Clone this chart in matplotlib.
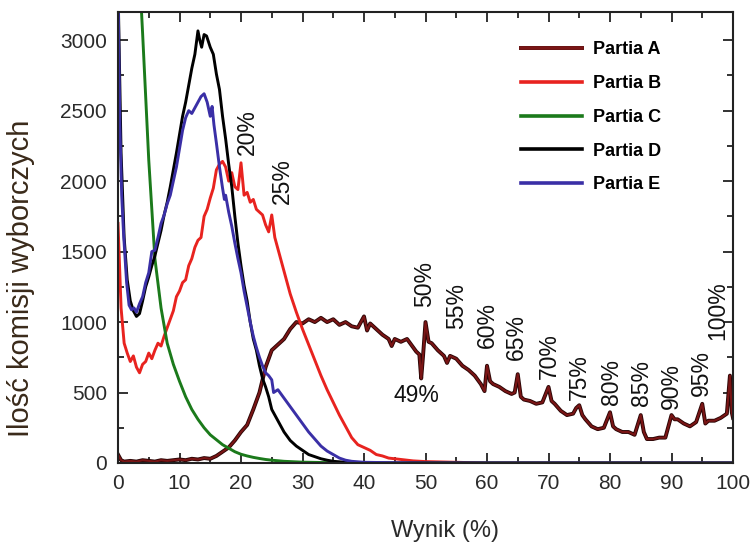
import matplotlib
matplotlib.use("Agg")
import matplotlib.pyplot as plt
import matplotlib.patheffects as pe
from matplotlib.ticker import MultipleLocator

plt.rcParams['font.family'] = ['Liberation Sans', 'DejaVu Sans']

# ---- data ----
xa = [0, 0.5, 1, 2, 3, 4, 5, 6, 7, 8, 9, 10, 11, 12, 13, 14, 15, 16, 17, 18, 19, 20,
      21, 22, 23, 24, 25, 26, 27, 28, 29, 30, 31, 32, 33, 34, 35, 36, 37, 38, 39, 40,
      40.5, 41, 42, 43, 44, 44.5, 45, 46, 47, 48, 48.5, 49, 49.3, 49.6, 50, 50.5, 51,
      52, 53, 53.5, 54, 55, 56, 57, 58, 59, 59.6, 60, 60.5, 61, 62, 63, 64, 64.5, 65,
      65.5, 66, 67, 68, 69, 70, 70.5, 71, 72, 73, 74, 74.5, 75, 75.5, 76, 77, 78, 79,
      80, 80.5, 81, 82, 83, 84, 85, 85.5, 86, 87, 88, 89, 90, 90.5, 91, 92, 93, 94, 95,
      95.5, 96, 97, 98, 99, 99.5, 99.8, 100]
ya = [60, 20, 10, 15, 10, 20, 15, 10, 20, 15, 20, 25, 20, 30, 25, 35, 30, 50, 80, 110,
      160, 220, 270, 380, 500, 680, 800, 840, 880, 950, 1000, 990, 1020, 1000, 1030,
      1000, 1020, 980, 1000, 970, 960, 1040, 940, 990, 950, 910, 880, 830, 880, 860,
      880, 820, 790, 770, 600, 760, 1000, 860, 850, 800, 760, 710, 760, 740, 690, 660,
      620, 560, 510, 690, 580, 560, 540, 510, 490, 500, 630, 470, 450, 440, 420, 430,
      540, 440, 420, 370, 340, 350, 390, 410, 340, 310, 260, 240, 250, 360, 260, 240,
      220, 220, 200, 340, 220, 170, 170, 180, 180, 340, 310, 310, 280, 260, 290, 420,
      280, 300, 300, 320, 350, 620, 360, 320]

xb = [0, 0.5, 1, 1.5, 2, 2.5, 3, 3.5, 4, 4.5, 5, 5.5, 6, 6.5, 7, 7.5, 8, 8.5, 9, 9.5,
      10, 10.5, 11, 11.5, 12, 12.5, 13, 13.5, 14, 14.5, 15, 15.5, 16, 16.5, 17, 17.5,
      18, 18.5, 19, 19.5, 20, 20.5, 21, 21.5, 22, 22.5, 23, 23.5, 24, 24.5, 25, 25.5,
      26, 27, 28, 29, 30, 31, 32, 33, 34, 35, 36, 37, 38, 39, 40, 41, 42, 43, 44, 45,
      46, 47, 48, 50, 55, 60, 100]
yb = [1700, 1100, 850, 780, 720, 760, 680, 640, 700, 720, 780, 740, 800, 850, 830,
      900, 960, 1020, 1080, 1180, 1220, 1280, 1300, 1400, 1450, 1530, 1580, 1600,
      1750, 1800, 1880, 1950, 2080, 2120, 2140, 2100, 2000, 2060, 1960, 1940, 2130,
      1900, 1920, 1850, 1870, 1800, 1780, 1760, 1690, 1640, 1760, 1600, 1520, 1360,
      1200, 1070, 950, 840, 730, 620, 520, 430, 340, 260, 180, 130, 110, 90, 60, 50,
      35, 30, 25, 20, 15, 10, 5, 0, 0]

xc = [0, 1, 2, 3, 4, 5, 6, 7, 8, 9, 10, 11, 12, 13, 14, 15, 16, 17, 18, 19, 20, 21, 22,
      23, 24, 25, 27, 30, 35, 40, 100]
yc = [8000, 6200, 4900, 3900, 3050, 2150, 1450, 1100, 850, 700, 580, 470, 380, 310, 250,
      200, 165, 130, 105, 80, 62, 50, 40, 32, 25, 20, 12, 6, 2, 0, 0]

xd = [0, 0.5, 1, 1.5, 2, 2.5, 3, 3.5, 4, 4.5, 5, 5.5, 6, 6.5, 7, 7.5, 8, 8.5, 9, 9.5,
      10, 10.5, 11, 11.5, 12, 12.5, 13, 13.3, 13.6, 14, 14.4, 15, 15.5, 16, 16.5, 17,
      17.5, 18, 18.5, 19, 19.5, 20, 20.5, 21, 21.5, 22, 22.5, 23, 23.5, 24, 24.5, 25,
      25.5, 26, 27, 28, 29, 30, 31, 32, 33, 34, 35, 37, 40, 100]
yd = [3400, 2200, 1600, 1300, 1150, 1080, 1040, 1060, 1150, 1250, 1320, 1400, 1470,
      1560, 1650, 1760, 1850, 1960, 2080, 2200, 2330, 2460, 2560, 2680, 2800, 2900,
      3066, 3000, 2950, 3040, 3030, 2950, 2900, 2760, 2650, 2460, 2300, 2120, 1960,
      1750, 1560, 1400, 1260, 1150, 1000, 880, 800, 690, 600, 540, 470, 380, 340, 300,
      220, 160, 120, 90, 60, 45, 30, 20, 12, 5, 0, 0]

xe = [0, 0.3, 0.6, 0.9, 1.4, 1.8, 2.2, 2.6, 3, 3.5, 4, 4.5, 5, 5.5, 6, 6.5, 7, 7.5, 8,
      8.5, 9, 9.5, 10, 10.5, 11, 11.5, 12, 12.5, 13, 13.5, 14, 14.5, 15, 15.3, 15.6, 16,
      16.5, 17, 17.3, 17.5, 18, 18.5, 19, 19.5, 20, 20.5, 21, 21.5, 22, 22.5, 23, 23.5,
      24, 24.5, 25, 25.3, 26, 27, 28, 29, 30, 31, 32, 33, 34, 35, 36, 37, 38, 40, 45, 50,
      100]
ye = [3400, 2400, 1900, 1630, 1280, 1120, 1087, 1100, 1070, 1130, 1180, 1280, 1350,
      1500, 1510, 1600, 1700, 1760, 1840, 1900, 2000, 2100, 2230, 2360, 2450, 2500,
      2480, 2520, 2560, 2600, 2620, 2560, 2460, 2530, 2400, 2270, 2100, 1950, 1870,
      1900, 1780, 1680, 1560, 1450, 1350, 1220, 1110, 1000, 900, 820, 750, 690, 640,
      620, 590, 500, 520, 460, 400, 340, 280, 220, 170, 120, 85, 60, 35, 20, 12, 5, 2, 0, 0]

labels = ["Partia A", "Partia B", "Partia C", "Partia D", "Partia E"]
colors = ["#6e1212", "#e8231f", "#1b7a1b", "#000000", "#3a2fa6"]

ann_text = ["20%", "25%", "50%", "55%", "60%", "65%", "70%", "75%", "80%", "85%",
            "90%", "95%", "100%"]
ann_x = [21.1, 26.7, 49.9, 55.1, 60.0, 64.8, 70.2, 75.0, 80.3, 85.1, 90.0, 94.9, 97.5]
ann_y = [2345, 2000, 1272, 1111, 981, 892, 762, 608, 578, 566, 543, 637, 1082]
low_text, low_x, low_y = "49%", 48.6, 478

# ---- figure ----
fig = plt.figure(figsize=(7.53, 5.43), dpi=100)
ax = fig.add_axes([118 / 753, 1 - 463 / 543, (733 - 118) / 753, (463 - 12) / 543])

series = [(xa, ya), (xb, yb), (xc, yc), (xd, yd), (xe, ye)]
for i, ((x, y), lab, col) in enumerate(zip(series, labels, colors)):
    if i == 0:
        ax.plot(x, y, color="#7a1515", lw=1.5, label=lab,
                path_effects=[pe.Stroke(linewidth=2.8, foreground="#2a0505"), pe.Normal()])
    else:
        ax.plot(x, y, color=col, lw=2.1, label=lab)

for t, x, y in zip(ann_text, ann_x, ann_y):
    ax.text(x, y, t, rotation=90, ha="center", va="center", fontsize=16.5, color="#111111")
ax.text(low_x, low_y, low_text, ha="center", va="center", fontsize=16.5, color="#111111")

ax.set_xlim(0, 100)
ax.set_ylim(0, 3200)
ax.xaxis.set_major_locator(MultipleLocator(10))
ax.xaxis.set_minor_locator(MultipleLocator(5))
ax.yaxis.set_major_locator(MultipleLocator(500))
ax.yaxis.set_minor_locator(MultipleLocator(250))
ax.tick_params(which="both", direction="in", top=True, right=True, width=1.3,
               labelsize=15, colors="#222222", labelcolor="#2a2a2a")
ax.tick_params(which="major", length=7, pad=8)
ax.tick_params(which="minor", length=4)
for s in ax.spines.values():
    s.set_linewidth(1.5)
    s.set_color("#222222")

ax.set_xlabel("Wynik (%)", fontsize=17, color="#2a2a2a")
ax.xaxis.set_label_coords(0.532, -0.126)
ax.set_ylabel("Ilość komisji wyborczych", fontsize=21, color="#3a2a1a")
ax.yaxis.set_label_coords(-0.135, 0.41)

leg = ax.legend(loc="upper left", bbox_to_anchor=(0.655, 0.935), frameon=False,
                borderaxespad=0, borderpad=0, handlelength=3.4, handletextpad=0.6,
                labelspacing=0.93, prop={"weight": "bold", "size": 13})
for h in leg.get_lines():
    h.set_linewidth(2.6)

fig.savefig("out.png", dpi=100)
